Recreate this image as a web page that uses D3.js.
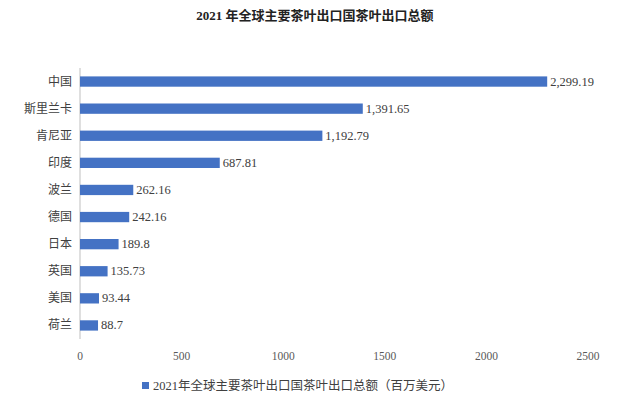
<!DOCTYPE html>
<html><head><meta charset="utf-8">
<script src="https://cdn.jsdelivr.net/npm/d3@7"></script>
<style>body{margin:0;background:#fff}text{font-family:"Liberation Serif","Noto Sans CJK SC",serif}</style>
</head><body><svg id="vis"></svg>
<script>
const countries = ["中国","斯里兰卡","肯尼亚","印度","波兰","德国","日本","英国","美国","荷兰"];
const values = [2299.19,1391.65,1192.79,687.81,262.16,242.16,189.8,135.73,93.44,88.7];
const labels = ["2,299.19","1,391.65","1,192.79","687.81","262.16","242.16","189.8","135.73","93.44","88.7"];
const ticks = [0,500,1000,1500,2000,2500];

const w = 630, h = 406;
const svg = d3.select("#vis").attr("width", w).attr("height", h);

const x = d3.scaleLinear().domain([0,2500]).range([80,588]);
const y = d3.scaleBand().domain(countries).range([68,339]).paddingInner(0.62).paddingOuter(0.31);

svg.append("text").attr("x",315).attr("y",20).attr("text-anchor","middle")
  .attr("font-size",13).attr("font-weight","bold").attr("fill","#222")
  .text("2021 年全球主要茶叶出口国茶叶出口总额");

svg.append("line").attr("x1",80).attr("x2",80).attr("y1",68).attr("y2",339).attr("stroke","#bfbfbf");

svg.selectAll("rect.bar").data(countries).enter().append("rect")
  .attr("class","bar").attr("x",x(0)).attr("y",d=>y(d))
  .attr("width",(d,i)=>x(values[i])-x(0)).attr("height",y.bandwidth()).attr("fill","#4472c4");

svg.selectAll("text.val").data(countries).enter().append("text")
  .attr("x",(d,i)=>x(values[i])+3).attr("y",d=>y(d)+y.bandwidth()/2+4)
  .attr("font-size",12.5).attr("fill","#404040").text((d,i)=>labels[i]);

svg.selectAll("text.cat").data(countries).enter().append("text")
  .attr("x",72).attr("y",d=>y(d)+y.bandwidth()/2+4).attr("text-anchor","end")
  .attr("font-size",12).attr("fill","#404040").text(d=>d);

svg.selectAll("text.tick").data(ticks).enter().append("text")
  .attr("x",d=>x(d)).attr("y",360).attr("text-anchor","middle")
  .attr("font-size",11.5).attr("fill","#595959").text(d=>d);

svg.append("rect").attr("x",142).attr("y",382).attr("width",7).attr("height",7).attr("fill","#4472c4");
svg.append("text").attr("x",153).attr("y",390).attr("font-size",12.5).attr("fill","#404040")
  .text("2021年全球主要茶叶出口国茶叶出口总额（百万美元）");
</script></body></html>
